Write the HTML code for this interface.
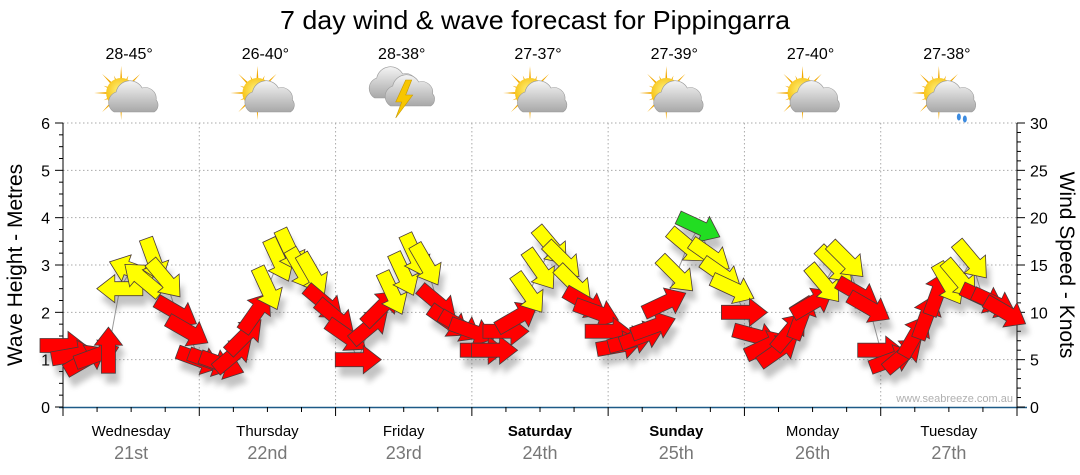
<!DOCTYPE html>
<html><head><meta charset="utf-8"><style>
html,body{margin:0;padding:0;background:#fff;}
svg{display:block;font-family:"Liberation Sans","DejaVu Sans",sans-serif;}
</style></head><body>
<svg id="chart" width="1080" height="475" viewBox="0 0 1080 475" xmlns="http://www.w3.org/2000/svg">
<defs>
<filter id="sh" x="-50%" y="-50%" width="200%" height="200%"><feGaussianBlur stdDeviation="3"/></filter>
<radialGradient id="sun" cx="0.45" cy="0.4" r="0.6"><stop offset="0" stop-color="#fff27a"/><stop offset="1" stop-color="#f5b800"/></radialGradient>
<linearGradient id="cloud" x1="0" y1="0" x2="0" y2="1"><stop offset="0" stop-color="#f4f4f4"/><stop offset="1" stop-color="#a8a8a8"/></linearGradient>
</defs>
<text x="535" y="29" font-size="26" text-anchor="middle" fill="#000" textLength="510" lengthAdjust="spacingAndGlyphs">7 day wind &amp; wave forecast for Pippingarra</text>
<g id="header"></g>
<g id="grid"></g>
<g id="axes"></g>
<text x="1013" y="402" font-size="11" fill="#b0b0b0" text-anchor="end">www.seabreeze.com.au</text>
<g id="marks"></g>
<text transform="translate(22,265) rotate(-90)" font-size="21" text-anchor="middle">Wave Height - Metres</text>
<text transform="translate(1060,265) rotate(90)" font-size="21" text-anchor="middle">Wind Speed - Knots</text>
</svg>
<script>
const dayNames = ["Wednesday","Thursday","Friday","Saturday","Sunday","Monday","Tuesday"];
const dayDates = ["21st","22nd","23rd","24th","25th","26th","27th"];
const boldDays = [false,false,false,true,true,false,false];
const tempRanges = ["28-45°","26-40°","28-38°","27-37°","27-39°","27-40°","27-38°"];
const weatherIcons = ["suncloud","suncloud","storm","suncloud","suncloud","suncloud","rain"];
const leftTicks = [0,1,2,3,4,5,6];
const rightTicks = [0,5,10,15,20,25,30];
// wind speed (knots), 2-hourly
const windKnots = [
 6.5,5.5,5,5.5,6,12.5,14.5,13.5,15.5,13.5,10,8,
 5,4.8,4.5,5.5,7.5,10,12.5,15.5,16.5,14.5,14,11,
 9.5,7.5,5,8.5,10.5,12,14,16,15,11,9,8.5,
 8,6,6,8,9.5,12,14.5,17,15.5,13,11,10,
 8,6.5,7,7.5,8.5,11,14,17,19,16,14,12.5,
 10,7.5,6.5,6,8,9.5,11,13,15,15.5,12,10.5,
 6,5,5.5,7.5,9.5,12,13,13.5,15.5,11.5,11,10];
// arrow pointing angle (deg, 0 = east, clockwise)
const windAngle = [
 0,-10,-30,-20,-90,180,-160,-140,70,50,30,30,
 20,20,20,-40,-45,-55,65,65,65,60,60,40,
 40,35,0,-40,-45,65,65,65,60,40,35,30,
 20,0,0,0,-30,55,55,50,45,45,30,20,
 0,-10,-15,-20,-20,-25,45,40,25,35,35,25,
 0,15,-25,-35,-50,-70,-30,50,45,45,30,30,
 0,-20,-40,-60,-70,-70,60,50,50,25,25,30];
const windColor = [
 "r","r","r","r","r","y","y","y","y","y","r","r",
 "r","r","r","r","r","r","y","y","y","y","y","r",
 "r","r","r","r","r","y","y","y","y","r","r","r",
 "r","r","r","r","r","y","y","y","y","y","r","r",
 "r","r","r","r","r","r","y","y","g","y","y","y",
 "r","r","r","r","r","r","r","y","y","y","r","r",
 "r","r","r","r","r","r","y","y","y","r","r","r"];

const NS="http://www.w3.org/2000/svg";
const X0=63,X1=1017,Y0=407,Y1=123;
const dayW=(X1-X0)/7;
const xScale=h=>X0+h/24*dayW;
const yLeft=m=>Y0-m/6*(Y0-Y1);
const yRight=k=>Y0-k/30*(Y0-Y1);
function mk(tag,attrs,parent){const e=document.createElementNS(NS,tag);for(const k in attrs)e.setAttribute(k,attrs[k]);parent.appendChild(e);return e;}

const grid=document.getElementById('grid');
for(const t of leftTicks){ if(t===0)continue;
 const l=mk('line',{x1:X0,x2:X1,y1:yLeft(t),y2:yLeft(t),stroke:'#aaa','stroke-dasharray':'1.5,2.5'},grid);
 
 }
for(let d=1;d<7;d++){
 const l=mk('line',{x1:xScale(d*24),x2:xScale(d*24),y1:Y1,y2:Y0,stroke:'#aaa','stroke-dasharray':'1.5,2.5'},grid);
 
 }

const axes=document.getElementById('axes');
mk('line',{x1:X0,x2:X0,y1:Y1,y2:Y0,stroke:'#000'},axes);
mk('line',{x1:X1,x2:X1,y1:Y1,y2:Y0,stroke:'#000'},axes);
mk('line',{x1:X0-4,x2:X1+10,y1:Y0+0.5,y2:Y0+0.5,stroke:'#1d5a87','stroke-width':1.5},axes);
for(let v=0;v<=6.001;v+=0.25){const y=yLeft(v);const major=Math.abs(v-Math.round(v))<1e-6;
 mk('line',{x1:X0-(major?8:4),x2:X0,y1:y,y2:y,stroke:'#000'},axes);}
for(const t of leftTicks){const tx=mk('text',{x:X0-13,y:yLeft(t)+6,'font-size':16,'text-anchor':'end'},axes);tx.textContent=t;
 
 }
for(let k=0;k<=30;k++){const y=yRight(k);const major=k%5===0;
 mk('line',{x1:X1,x2:X1+(major?8:4),y1:y,y2:y,stroke:'#000'},axes);}
for(const t of rightTicks){const tx=mk('text',{x:X1+13,y:yRight(t)+6,'font-size':16},axes);tx.textContent=t;
 
 }
for(let h=0;h<=168;h+=6){const x=xScale(h);mk('line',{x1:x,x2:x,y1:Y0,y2:Y0+(h%24===0?9:5),stroke:'#000'},axes);}

const hdr=document.getElementById('header');
function sunIcon(g,cx,cy){
 for(let i=0;i<16;i++){const a=i*Math.PI/8,len=i%2?19:27;
  mk('path',{d:`M${cx+Math.cos(a+0.12)*10} ${cy+Math.sin(a+0.12)*10} L${cx+Math.cos(a)*len} ${cy+Math.sin(a)*len} L${cx+Math.cos(a-0.12)*10} ${cy+Math.sin(a-0.12)*10}Z`,fill:'#f2a800'},g);}
 mk('circle',{cx:cx,cy:cy,r:15,fill:'url(#sun)'},g);}
function cloudIcon(g,cx,cy,s){
 mk('path',{d:`M${cx-19} ${cy+12} a11 11 0 0 1 2 -20 a14 14 0 0 1 26 -4 a11 11 0 0 1 14 12 a8 8 0 0 1 -2 12 Z`,fill:'url(#cloud)',stroke:'#999','stroke-width':0.6},g);}
for(let d=0;d<7;d++){
 const cx=xScale(d*24+12)-2;
 const t=mk('text',{x:cx,y:59,'font-size':16,'text-anchor':'middle'},hdr);t.textContent=tempRanges[d];
 
 
 const g=mk('g',{},hdr);
 
 
 if(weatherIcons[d]==='storm'){
  cloudIcon(g,cx-8,86,1);cloudIcon(g,cx+8,94,1);
  mk('path',{d:`M${cx+4} 80 L${cx-6} 102 L${cx} 102 L${cx-6} 118 L${cx+11} 95 L${cx+4} 95 L${cx+10} 80Z`,fill:'#f7c600',stroke:'#c99a00','stroke-width':0.6},g);
 } else {
  sunIcon(g,cx-8,93);cloudIcon(g,cx+4,100,1);
  if(weatherIcons[d]==='rain'){mk('ellipse',{cx:cx+12,cy:117,rx:2,ry:3.5,fill:'#3c8be0'},g);mk('ellipse',{cx:cx+18,cy:119,rx:2,ry:3.5,fill:'#3c8be0'},g);}
 }
 const n=mk('text',{x:xScale(d*24+12),y:436,'font-size':15,'text-anchor':'middle','font-weight':boldDays[d]?'bold':'normal'},hdr);n.textContent=dayNames[d];
 
 
 const dt=mk('text',{x:xScale(d*24+12),y:459,'font-size':18,'text-anchor':'middle',fill:'#777'},hdr);dt.textContent=dayDates[d];
 
 
}

const marks=document.getElementById('marks');
const pts=windKnots.map((k,i)=>[xScale(i*2),yRight(k)]);
const ln=mk('polyline',{points:pts.map(p=>p.join(',')).join(' '),fill:'none',stroke:'#999','stroke-width':1},marks);


const colors={r:'#ff0000',y:'#ffff00',g:'#22dd22'};
const arrowPath="M-23 -7 L5 -7 L5 -14 L23 0 L5 14 L5 7 L-23 7 Z";
const shadows=mk('g',{filter:'url(#sh)',opacity:0.35},marks);
pts.forEach((p,i)=>{mk('path',{d:arrowPath,fill:'#555',transform:`translate(${p[0]+4},${p[1]+10}) rotate(${windAngle[i]})`},shadows);});
pts.forEach((p,i)=>{
 const a=mk('path',{d:arrowPath,fill:colors[windColor[i]],stroke:'#4a3a3a','stroke-width':0.8,transform:`translate(${p[0]},${p[1]}) rotate(${windAngle[i]})`},marks);
 
 
});
</script>
</body></html>
